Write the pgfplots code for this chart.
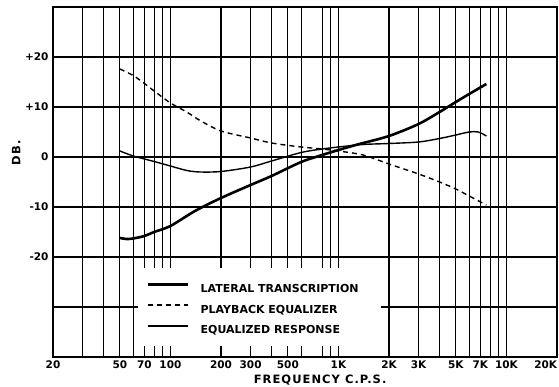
\documentclass[border=0pt]{standalone}
\usepackage{fontspec}
\setmainfont{DejaVu Sans}
\newfontfamily\spaced{DejaVu Sans}[LetterSpace=9]
\usepackage{pgfplots}
\pgfplotsset{compat=1.18}
\begin{document}
\begin{tikzpicture}
\useasboundingbox (-53pt,-30pt) rectangle (506pt,357pt);
\begin{axis}[
 scale only axis, width=504pt, height=350pt,
 xmode=log, xmin=20, xmax=20000, ymin=-40, ymax=30,
 xtick={20,50,70,100,200,300,500,1000,2000,3000,5000,7000,10000,20000},
 xticklabels={20,50,70,100,200,300,500,1K,2K,3K,5K,7K,10K,\llap{20K}},
 minor xtick={30,40,60,80,90,400,600,800,900,4000,6000,8000,9000},
 ytick={-40,-30,...,30},
 yticklabels={,,-20,-10,0,+10,+20,},
 major tick length=0pt, minor tick length=0pt,
 grid=both,
 major grid style={black, line width=1.2pt},
 minor grid style={black, line width=1.2pt},
 axis line style={line width=2.4pt},
 tick label style={font=\bfseries\fontsize{10.5}{12}\selectfont},
 yticklabel style={xshift=-1pt},
 xlabel={FREQUENCY C.P.S.}, ylabel={DB.},
 label style={font=\spaced\bfseries\fontsize{11.5}{13}\selectfont},
 xlabel style={at={(axis description cs:0.53,-0.066)}, anchor=center},
 ylabel style={at={(axis description cs:-0.073,0.583)}, anchor=center},
 legend style={at={(axis cs:64,-22.2)}, anchor=north west, draw=none, fill=none,
   font=\bfseries\fontsize{11}{12}\selectfont,
   nodes={inner sep=0pt, text height=8pt, text depth=0pt},
   row sep=12pt, column sep=11pt, inner xsep=9pt, inner ysep=15pt},
 legend cell align=left,
 legend image code/.code={\draw[#1] (0pt,4pt) -- (40pt,4pt);},
]
\addplot[black, line width=2.6pt, smooth] coordinates {
(50,-16.2) (55,-16.4) (60,-16.3) (70,-15.8) (80,-15.0) (100,-13.8) (140,-10.8)
(200,-8.2) (300,-5.6) (400,-3.8) (600,-1.0) (800,0.4) (1000,1.4) (1300,2.5)
(2000,4.2) (3000,6.6) (4000,9) (5000,11) (6000,12.6) (7600,14.6)};
\addlegendentry{LATERAL TRANSCRIPTION}
\addplot[black, line width=1.4pt, smooth, dash pattern=on 5pt off 4pt] coordinates {
(50,17.6) (60,16.3) (70,14.7) (80,13.2) (100,10.8) (125,9.0) (150,7.3) (200,5.2)
(300,3.8) (400,2.8) (600,2.0) (800,1.6) (1000,1.2) (1400,0.4) (2000,-1.4)
(3000,-3.4) (4000,-5.0) (5000,-6.4) (6000,-7.8) (7600,-9.6)};
\addlegendentry{PLAYBACK EQUALIZER}
\addplot[black, line width=1.4pt, smooth] coordinates {
(50,1.2) (60,0.2) (70,-0.4) (80,-0.9) (100,-1.8) (125,-2.7) (150,-3.0) (200,-2.9)
(300,-2.0) (400,-0.8) (600,0.9) (800,1.6) (1000,2.0) (1400,2.5) (2000,2.7)
(3000,3.0) (4000,3.7) (5000,4.4) (6000,5.0) (6800,5.0) (7600,4.2)};
\addlegendentry{EQUALIZED RESPONSE}
\fill[white] (axis cs:64,-37.8) rectangle (axis cs:1800,-22.2);
\end{axis}
\end{tikzpicture}
\end{document}
